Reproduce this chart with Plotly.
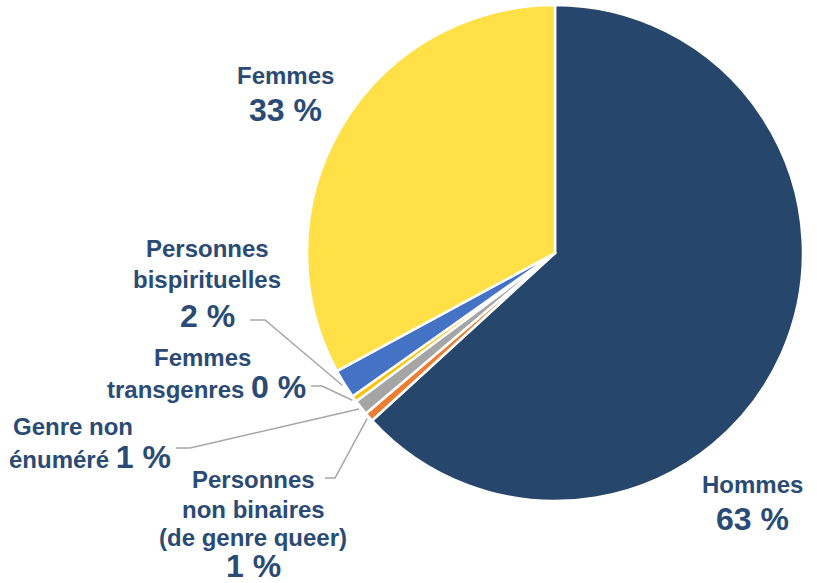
import math
import plotly.graph_objects as go

# slices, clockwise from 12 o'clock
labels = ["Hommes", "Personnes non binaires (de genre queer)", "Genre non énuméré",
          "Femmes transgenres", "Personnes bispirituelles", "Femmes"]
values = [63.2, 0.6, 1.0, 0.4, 1.9, 32.9]
colors = ["#26476B", "#ED7D31", "#A5A5A5", "#FFC000", "#4472C4", "#FFE047"]

W, H = 817, 583
NAVY = "#2A4B74"
FONT = "Liberation Sans, Arial, Helvetica, sans-serif"

# pie placement in pixels
CX, CY, R = 555, 253, 248


def px(x, y):
    return x / W, 1 - y / H


fig = go.Figure(go.Pie(
    labels=labels, values=values, sort=False, direction="clockwise", rotation=0,
    marker=dict(colors=colors, line=dict(color="white", width=2.5)),
    textinfo="none", hoverinfo="label+percent", showlegend=False,
    domain=dict(x=[(CX - R) / W, (CX + R) / W], y=[1 - (CY + R) / H, 1 - (CY - R) / H]),
))

# mid angles of slices (degrees clockwise from top)
total = sum(values)
mids = []
acc = 0
for v in values:
    mids.append((acc + v / 2) / total * 360)
    acc += v


def edge(i, k=1.01):
    a = math.radians(mids[i])
    return CX + k * R * math.sin(a), CY - k * R * math.cos(a)


# leader lines: label-side start, elbow, slice index
leaders = [
    ((250, 320), (265, 320), 4),
    ((311, 386), (322, 386), 3),
    ((176, 448), (190, 448), 2),
    ((325, 478), (335, 478), 1),
]
shapes = []
for p0, p1, i in leaders:
    p2 = edge(i)
    pts = [px(*p0), px(*p1), px(*p2)]
    path = "M {} {} L {} {} L {} {}".format(pts[0][0], pts[0][1], pts[1][0], pts[1][1],
                                            pts[2][0], pts[2][1])
    shapes.append(dict(type="path", xref="paper", yref="paper", path=path,
                       line=dict(color="#A6A6A6", width=1.5)))

SMALL, BIG = 24, 32
texts = [
    ("<b>Femmes</b>", 285, 75, SMALL),
    ("<b>33 %</b>", 285, 110, BIG),
    ("<b>Personnes</b>", 207, 248, SMALL),
    ("<b>bispirituelles</b>", 207, 279, SMALL),
    ("<b>2 %</b>", 207, 316, BIG),
    ("<b>Femmes</b>", 202, 357, SMALL),
    ("<b>transgenres <span style='font-size:32px'>0 %</span></b>", 206, 387, SMALL),
    ("<b>Genre non</b>", 73, 426, SMALL),
    ("<b>énuméré <span style='font-size:32px'>1 %</span></b>", 90, 457, SMALL),
    ("<b>Personnes</b>", 253, 479, SMALL),
    ("<b>non binaires</b>", 253, 509, SMALL),
    ("<b>(de genre queer)</b>", 253, 537, SMALL),
    ("<b>1 %</b>", 253, 566, BIG),
    ("<b>Hommes</b>", 752, 484, SMALL),
    ("<b>63 %</b>", 752, 519, BIG),
]
annotations = []
for t, x, y, s in texts:
    ax, ay = px(x, y)
    annotations.append(dict(text=t, x=ax, y=ay, xref="paper", yref="paper",
                            xanchor="center", yanchor="middle", showarrow=False,
                            font=dict(family=FONT, size=s, color=NAVY)))

fig.update_layout(
    width=W, height=H, margin=dict(l=0, r=0, t=0, b=0),
    paper_bgcolor="white", plot_bgcolor="white",
    shapes=shapes, annotations=annotations,
)
# drop the default 8px body margin so the figure fills the window
fig.write_html("out.html", config={"displayModeBar": False},
               post_script="document.body.style.margin='0';")
